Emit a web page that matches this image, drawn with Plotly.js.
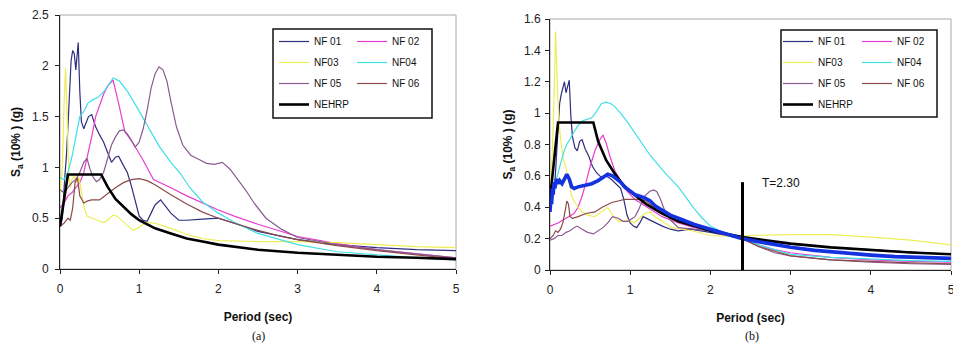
<!DOCTYPE html>
<html><head><meta charset="utf-8">
<script src="https://cdn.plot.ly/plotly-3.0.1.min.js"></script>
<style>html,body{margin:0;padding:0;background:#fff}</style>
</head><body><div id="chart" style="width:953px;height:345px"></div>
<script>
// ---------- Data: panel (a) ----------
const seriesNames = ["NF 01", "NF 02", "NF03", "NF04", "NF 05", "NF 06", "NEHRP"];
const xTicks = [0, 1, 2, 3, 4, 5];

const tA_NF01 = [0, 0.03, 0.06, 0.08, 0.1, 0.12, 0.14, 0.16, 0.18, 0.2, 0.22, 0.23, 0.25, 0.27, 0.3, 0.33, 0.36, 0.4, 0.45, 0.5, 0.55, 0.6, 0.65, 0.7, 0.74, 0.8, 0.85, 0.9, 0.95, 1.0, 1.05, 1.1, 1.15, 1.2, 1.27, 1.33, 1.4, 1.5, 1.6, 1.8, 2.0, 2.2, 2.5, 3.0, 3.5, 4.0, 4.5, 5.0];
const sA_NF01 = [0.42, 0.5, 0.9, 1.1, 1.4, 1.8, 2.05, 2.15, 2.12, 1.96, 2.2, 2.23, 1.75, 1.45, 1.38, 1.45, 1.5, 1.52, 1.4, 1.32, 1.25, 1.15, 1.05, 1.1, 1.11, 1.02, 0.95, 0.82, 0.66, 0.52, 0.48, 0.47, 0.55, 0.63, 0.68, 0.62, 0.55, 0.48, 0.48, 0.49, 0.5, 0.45, 0.37, 0.29, 0.24, 0.21, 0.19, 0.18];

const tA_NF02 = [0, 0.05, 0.1, 0.15, 0.2, 0.25, 0.3, 0.35, 0.4, 0.45, 0.5, 0.55, 0.6, 0.67, 0.74, 0.82, 0.92, 1.05, 1.18, 1.3, 1.4, 1.6, 1.8, 2.0, 2.2, 2.5, 3.0, 3.5, 4.0, 4.5, 5.0];
const sA_NF02 = [0.6, 0.65, 0.72, 0.75, 0.8, 0.85, 0.95, 1.12, 1.3, 1.5, 1.62, 1.72, 1.8, 1.86, 1.63, 1.35, 1.24, 1.07, 0.88, 0.84, 0.8, 0.72, 0.65, 0.58, 0.52, 0.44, 0.32, 0.25, 0.19, 0.15, 0.11];

const tA_NF03 = [0, 0.03, 0.05, 0.07, 0.09, 0.11, 0.13, 0.15, 0.18, 0.21, 0.24, 0.27, 0.3, 0.34, 0.4, 0.45, 0.5, 0.57, 0.62, 0.67, 0.72, 0.78, 0.85, 0.92, 0.98, 1.03, 1.1, 1.2, 1.4, 1.6, 1.8, 2.0, 2.5, 3.0, 3.5, 4.0, 4.5, 5.0];
const sA_NF03 = [0.75, 1.0, 1.6, 1.98, 1.5, 0.95, 0.8, 0.88, 0.92, 0.85, 0.9, 0.75, 0.62, 0.52, 0.5, 0.48, 0.47, 0.46, 0.5, 0.53, 0.52, 0.48, 0.43, 0.38, 0.4, 0.43, 0.46, 0.45, 0.4, 0.34, 0.3, 0.28, 0.27, 0.27, 0.26, 0.24, 0.22, 0.21];

const tA_NF04 = [0, 0.05, 0.1, 0.15, 0.2, 0.25, 0.3, 0.35, 0.4, 0.48, 0.57, 0.62, 0.67, 0.75, 0.85, 0.95, 1.05, 1.15, 1.26, 1.4, 1.52, 1.64, 1.8, 2.0, 2.2, 2.5, 2.8, 3.0, 3.5, 4.0, 4.5, 5.0];
const sA_NF04 = [0.9, 0.88, 0.95, 1.1, 1.3, 1.5, 1.55, 1.63, 1.66, 1.69, 1.76, 1.82, 1.88, 1.85, 1.75, 1.62, 1.48, 1.34, 1.2, 1.05, 0.94, 0.8, 0.66, 0.55, 0.46, 0.35, 0.28, 0.24, 0.17, 0.14, 0.11, 0.09];

const tA_NF05 = [0, 0.05, 0.1, 0.15, 0.2, 0.25, 0.3, 0.34, 0.38, 0.42, 0.46, 0.5, 0.55, 0.6, 0.65, 0.7, 0.75, 0.8, 0.85, 0.9, 0.95, 1.0, 1.05, 1.1, 1.15, 1.2, 1.25, 1.3, 1.35, 1.4, 1.47, 1.55, 1.65, 1.75, 1.85, 1.95, 2.05, 2.15, 2.25, 2.35, 2.45, 2.6, 2.8, 3.0, 3.5, 4.0, 4.5, 5.0];
const sA_NF05 = [0.78, 0.75, 0.8, 0.85, 0.88, 0.95, 1.05, 1.09, 0.98, 0.9, 0.86, 0.88, 0.95, 1.08, 1.22, 1.3, 1.36, 1.37, 1.33, 1.27, 1.2, 1.25, 1.38, 1.56, 1.78, 1.92, 1.99, 1.96, 1.85, 1.65, 1.4, 1.22, 1.12, 1.08, 1.04, 1.03, 1.05, 0.98, 0.88, 0.77, 0.65, 0.5, 0.39, 0.31, 0.24, 0.19, 0.15, 0.11];

const tA_NF06 = [0, 0.05, 0.1, 0.13, 0.16, 0.19, 0.22, 0.25, 0.3, 0.35, 0.4, 0.5, 0.6, 0.7, 0.8, 0.9, 1.0, 1.1, 1.2, 1.4, 1.6, 1.8, 2.0, 2.2, 2.5, 2.8, 3.0, 3.5, 4.0, 4.5, 5.0];
const sA_NF06 = [0.42, 0.45, 0.5, 0.48, 0.6, 0.85, 0.9, 0.72, 0.65, 0.67, 0.68, 0.68, 0.74, 0.8, 0.85, 0.88, 0.89, 0.87, 0.83, 0.73, 0.64, 0.56, 0.5, 0.45, 0.38, 0.32, 0.29, 0.23, 0.18, 0.14, 0.1];

const tA_NEHRP = [0, 0.1, 0.52, 0.6, 0.7, 0.8, 0.9, 1.0, 1.2, 1.4, 1.6, 1.8, 2.0, 2.5, 3.0, 3.5, 4.0, 4.5, 5.0];
const sA_NEHRP = [0.42, 0.93, 0.93, 0.81, 0.69, 0.61, 0.54, 0.48, 0.40, 0.35, 0.30, 0.27, 0.24, 0.19, 0.16, 0.14, 0.12, 0.11, 0.097];

// ---------- Data: panel (b) ----------
const tB_NF01 = [0, 0.03, 0.06, 0.08, 0.1, 0.12, 0.14, 0.16, 0.18, 0.2, 0.22, 0.24, 0.26, 0.28, 0.31, 0.34, 0.37, 0.4, 0.44, 0.48, 0.53, 0.58, 0.64, 0.7, 0.76, 0.82, 0.88, 0.92, 0.96, 1.0, 1.04, 1.08, 1.12, 1.16, 1.2, 1.3, 1.4, 1.5, 1.6, 1.75, 2.0, 2.4, 3.0, 3.5, 4.0, 4.5, 5.0];
const sB_NF01 = [0.4, 0.45, 0.55, 0.7, 0.89, 1.06, 1.12, 1.17, 1.2, 1.13, 1.18, 1.21, 0.98, 0.85, 0.78, 0.76, 0.82, 0.83, 0.77, 0.73, 0.66, 0.62, 0.59, 0.6, 0.58, 0.55, 0.52, 0.45, 0.35, 0.3, 0.28, 0.27, 0.3, 0.34, 0.33, 0.3, 0.28, 0.26, 0.25, 0.26, 0.24, 0.2, 0.165, 0.145, 0.13, 0.115, 0.1];

const tB_NF02 = [0, 0.05, 0.1, 0.2, 0.3, 0.35, 0.4, 0.45, 0.5, 0.56, 0.62, 0.66, 0.7, 0.75, 0.81, 0.87, 0.93, 1.0, 1.06, 1.15, 1.25, 1.4, 1.6, 1.8, 2.0, 2.2, 2.4, 2.6, 2.8, 3.0, 3.5, 4.0, 4.5, 5.0];
const sB_NF02 = [0.28, 0.29, 0.3, 0.33, 0.36, 0.4, 0.47, 0.56, 0.66, 0.76, 0.83, 0.86, 0.81, 0.72, 0.63, 0.58, 0.52, 0.48, 0.45, 0.42, 0.39, 0.34, 0.3, 0.27, 0.25, 0.22, 0.2, 0.16, 0.13, 0.11, 0.08, 0.065, 0.055, 0.05];

const tB_NF03 = [0, 0.03, 0.05, 0.07, 0.09, 0.11, 0.14, 0.17, 0.2, 0.24, 0.27, 0.3, 0.35, 0.4, 0.47, 0.56, 0.64, 0.72, 0.78, 0.85, 0.92, 0.97, 1.05, 1.18, 1.25, 1.31, 1.4, 1.52, 1.65, 1.77, 2.0, 2.2, 2.5, 3.0, 3.5, 4.0, 4.5, 5.0];
const sB_NF03 = [0.5, 0.75, 1.1, 1.52, 1.2, 0.95, 0.8, 0.7, 0.65, 0.55, 0.47, 0.44, 0.4, 0.37, 0.35, 0.34, 0.37, 0.4, 0.35, 0.31, 0.31, 0.32, 0.3, 0.36, 0.37, 0.34, 0.31, 0.27, 0.26, 0.25, 0.22, 0.215, 0.22, 0.225, 0.225, 0.21, 0.19, 0.16];

const tB_NF04 = [0, 0.04, 0.08, 0.1, 0.13, 0.17, 0.21, 0.25, 0.3, 0.35, 0.4, 0.46, 0.52, 0.58, 0.64, 0.7, 0.76, 0.81, 0.88, 0.97, 1.05, 1.15, 1.25, 1.35, 1.45, 1.6, 1.7, 1.8, 1.9, 2.0, 2.2, 2.4, 2.6, 2.8, 3.0, 3.5, 4.0, 4.5, 5.0];
const sB_NF04 = [0.5, 0.55, 0.58, 0.62, 0.68, 0.75, 0.8, 0.84, 0.88, 0.92, 0.95, 0.96, 0.97, 1.01, 1.06, 1.07, 1.06, 1.04, 1.0, 0.94, 0.88, 0.8, 0.73, 0.67, 0.61, 0.53, 0.46, 0.39, 0.33, 0.28, 0.23, 0.2, 0.16, 0.13, 0.1, 0.08, 0.07, 0.06, 0.055];

const tB_NF05 = [0, 0.05, 0.1, 0.15, 0.2, 0.25, 0.3, 0.34, 0.4, 0.47, 0.54, 0.6, 0.66, 0.72, 0.78, 0.85, 0.91, 0.97, 1.02, 1.06, 1.1, 1.14, 1.18, 1.24, 1.29, 1.33, 1.37, 1.43, 1.5, 1.6, 1.8, 2.0, 2.2, 2.4, 2.6, 2.8, 3.0, 3.5, 4.0, 4.5, 5.0];
const sB_NF05 = [0.19, 0.2, 0.22, 0.22, 0.24, 0.25, 0.27, 0.28, 0.26, 0.24, 0.23, 0.25, 0.27, 0.3, 0.34, 0.33, 0.31, 0.31, 0.33, 0.34, 0.38, 0.43, 0.47, 0.5, 0.51, 0.5, 0.46, 0.38, 0.32, 0.27, 0.26, 0.25, 0.23, 0.2, 0.15, 0.11, 0.09, 0.065, 0.05, 0.04, 0.035];

const tB_NF06 = [0, 0.04, 0.07, 0.1, 0.13, 0.16, 0.19, 0.21, 0.23, 0.25, 0.28, 0.35, 0.45, 0.56, 0.65, 0.77, 0.85, 0.93, 1.0, 1.1, 1.2, 1.27, 1.35, 1.47, 1.6, 1.8, 2.0, 2.2, 2.4, 2.6, 2.8, 3.0, 3.5, 4.0, 4.5, 5.0];
const sB_NF06 = [0.2, 0.22, 0.25, 0.24, 0.26, 0.3, 0.38, 0.44, 0.42, 0.34, 0.33, 0.34, 0.36, 0.37, 0.4, 0.43, 0.44, 0.45, 0.45, 0.45, 0.44, 0.41, 0.38, 0.35, 0.31, 0.28, 0.26, 0.23, 0.2, 0.15, 0.12, 0.09, 0.065, 0.055, 0.045, 0.04];

const tB_NEHRP = [0, 0.1, 0.54, 0.6, 0.7, 0.8, 0.9, 1.0, 1.2, 1.4, 1.6, 1.8, 2.0, 2.4, 3.0, 3.5, 4.0, 4.5, 5.0];
const sB_NEHRP = [0.45, 0.94, 0.94, 0.82, 0.7, 0.62, 0.55, 0.5, 0.42, 0.36, 0.31, 0.28, 0.25, 0.21, 0.168, 0.144, 0.126, 0.112, 0.1];

const tB_Mean = [0, 0.01, 0.02, 0.03, 0.04, 0.05, 0.06, 0.08, 0.1, 0.12, 0.15, 0.18, 0.21, 0.24, 0.27, 0.3, 0.35, 0.44, 0.52, 0.6, 0.66, 0.72, 0.78, 0.83, 0.88, 0.93, 1.0, 1.06, 1.12, 1.18, 1.25, 1.31, 1.37, 1.43, 1.5, 1.6, 1.7, 1.8, 2.0, 2.2, 2.4, 2.6, 2.8, 3.0, 3.3, 3.6, 4.0, 4.3, 4.6, 5.0];
const sB_Mean = [0.37, 0.45, 0.42, 0.52, 0.48, 0.56, 0.52, 0.58, 0.55, 0.57, 0.55, 0.58, 0.61, 0.58, 0.53, 0.52, 0.53, 0.54, 0.55, 0.57, 0.59, 0.61, 0.6, 0.58, 0.56, 0.53, 0.5, 0.48, 0.47, 0.46, 0.44, 0.41, 0.39, 0.37, 0.35, 0.33, 0.31, 0.29, 0.26, 0.23, 0.2, 0.18, 0.16, 0.145, 0.125, 0.11, 0.095, 0.085, 0.08, 0.074];

const tMarkerX = [2.4, 2.4];
const tMarkerY = [0, 0.56];
const tMarkerLabel = "T=2.30";

// ---------- Styles ----------
const colors = ["#2e2e80", "#e83cd0", "#eded55", "#3fdfe6", "#8a5a90", "#8c4a4a", "#000000"];
const widths = [1.2, 1.2, 1.2, 1.2, 1.2, 1.2, 2.6];
const font = "Liberation Sans, Arial, sans-serif";
const serif = "Liberation Serif, Times New Roman, serif";

const dataA = [[tA_NF01, sA_NF01], [tA_NF02, sA_NF02], [tA_NF03, sA_NF03], [tA_NF04, sA_NF04], [tA_NF05, sA_NF05], [tA_NF06, sA_NF06], [tA_NEHRP, sA_NEHRP]];
const dataB = [[tB_NF01, sB_NF01], [tB_NF02, sB_NF02], [tB_NF03, sB_NF03], [tB_NF04, sB_NF04], [tB_NF05, sB_NF05], [tB_NF06, sB_NF06], [tB_NEHRP, sB_NEHRP]];
const legendColA = ["legend", "legend2", "legend", "legend2", "legend", "legend2", "legend"];
const legendColB = ["legend3", "legend4", "legend3", "legend4", "legend3", "legend4", "legend3"];

const traces = [];
dataA.forEach((d, i) => traces.push({
  x: d[0], y: d[1], type: "scatter", mode: "lines", name: seriesNames[i],
  xaxis: "x", yaxis: "y", legend: legendColA[i], legendgroup: "a" + i,
  line: {color: colors[i], width: widths[i]}
}));
dataB.forEach((d, i) => traces.push({
  x: d[0], y: d[1], type: "scatter", mode: "lines", name: seriesNames[i],
  xaxis: "x2", yaxis: "y2", legend: legendColB[i], legendgroup: "b" + i,
  line: {color: colors[i], width: widths[i]}
}));
traces.push({x: tB_Mean, y: sB_Mean, type: "scatter", mode: "lines", name: "Mean",
  xaxis: "x2", yaxis: "y2", showlegend: false, line: {color: "#1433e0", width: 3.6}});
traces.push({x: tMarkerX, y: tMarkerY, type: "scatter", mode: "lines", name: "T",
  xaxis: "x2", yaxis: "y2", showlegend: false, line: {color: "#000", width: 3}});

const axBase = {
  showgrid: false, zeroline: false, showline: true, linecolor: "#222", linewidth: 1,
  ticks: "outside", ticklen: 4, tickcolor: "#222", ticklabeloverflow: "allow",
  tickfont: {family: font, size: 12, color: "#222"}
};
const W = 953, H = 345;
const legBase = {
  orientation: "v", xanchor: "left", yanchor: "top", bgcolor: "rgba(0,0,0,0)",
  borderwidth: 0, font: {family: font, size: 10, color: "#111"}, tracegroupgap: 2
};
const titleFont = {family: font, size: 12, color: "#111", weight: "bold"};

const layout = {
  width: W, height: H, margin: {l: 0, r: 0, t: 0, b: 0},
  paper_bgcolor: "#fff", plot_bgcolor: "#fff", showlegend: true,
  xaxis: Object.assign({}, axBase, {domain: [60 / W, 456 / W], range: [0, 5], tickvals: xTicks, anchor: "y",
    ticklabelstandoff: 5, title: {text: "Period (sec)", font: titleFont, standoff: 17}}),
  yaxis: Object.assign({}, axBase, {domain: [1 - 269 / H, 1 - 15 / H], range: [0, 2.5], dtick: 0.5, anchor: "x",
    ticklabelstandoff: 4, title: {text: "S<sub>a</sub> (10% ) (g)", font: titleFont, standoff: 8}}),
  xaxis2: Object.assign({}, axBase, {domain: [550 / W, 951 / W], range: [0, 5], tickvals: xTicks, anchor: "y2",
    ticklabelstandoff: 5, title: {text: "Period (sec)", font: titleFont, standoff: 17}}),
  yaxis2: Object.assign({}, axBase, {domain: [1 - 270 / H, 1 - 19 / H], range: [0, 1.6], dtick: 0.2, anchor: "x2",
    ticklabelstandoff: 2, title: {text: "S<sub>a</sub> (10% ) (g)", font: titleFont, standoff: 8}}),
  legend: Object.assign({}, legBase, {x: 274 / W, y: 1 - 27 / H}),
  legend2: Object.assign({}, legBase, {x: 352 / W, y: 1 - 27 / H}),
  legend3: Object.assign({}, legBase, {x: 778 / W, y: 1 - 27 / H}),
  legend4: Object.assign({}, legBase, {x: 857 / W, y: 1 - 27 / H}),
  shapes: [
    {type: "rect", xref: "x domain", yref: "y domain", x0: 0, x1: 1, y0: 0, y1: 1, line: {color: "#a8a8a8", width: 1}, layer: "below"},
    {type: "rect", xref: "x2 domain", yref: "y2 domain", x0: 0, x1: 1, y0: 0, y1: 1, line: {color: "#a8a8a8", width: 1}, layer: "below"},
    {type: "rect", xref: "paper", yref: "paper", x0: 273 / W, x1: 432 / W, y0: 1 - 118 / H, y1: 1 - 29 / H, line: {color: "#111", width: 1.5}},
    {type: "rect", xref: "paper", yref: "paper", x0: 781 / W, x1: 937 / W, y0: 1 - 117 / H, y1: 1 - 30 / H, line: {color: "#111", width: 1.5}}
  ],
  annotations: [
    {text: "(a)", xref: "paper", yref: "paper", x: 258 / W, y: 1 - 336 / H, xanchor: "center", yanchor: "middle",
      showarrow: false, font: {family: serif, size: 12, color: "#111"}},
    {text: "(b)", xref: "paper", yref: "paper", x: 752 / W, y: 1 - 336 / H, xanchor: "center", yanchor: "middle",
      showarrow: false, font: {family: serif, size: 12, color: "#111"}},
    {text: tMarkerLabel, xref: "x2", yref: "y2", x: 2.88, y: 0.555, xanchor: "center", yanchor: "middle",
      showarrow: false, font: {family: font, size: 12, color: "#111"}}
  ]
};

Plotly.newPlot("chart", traces, layout, {staticPlot: true, displayModeBar: false});
</script>
</body></html>
